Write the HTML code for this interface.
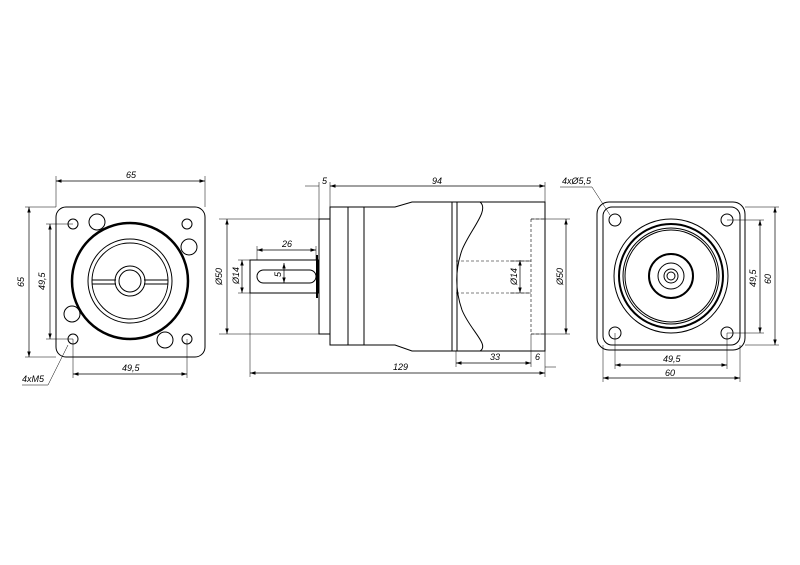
<!DOCTYPE html><html><head><style>body{margin:0;background:#fff}svg{display:block}text{font-family:"Liberation Sans",sans-serif;font-style:italic;font-size:9px;fill:#000;stroke:none}</style></head><body>
<svg width="800" height="565" viewBox="0 0 800 565" fill="none" stroke="#000" stroke-width="1">
<defs><marker id="a" markerWidth="8" markerHeight="6" refX="8" refY="3" orient="auto-start-reverse"><path d="M0,0.5L8,3L0,5.5z" fill="#000" stroke="none"/></marker></defs>
<g stroke-width="0.7" marker-start="url(#a)" marker-end="url(#a)">
<line x1="56" y1="181" x2="205" y2="181"/><line x1="29" y1="207" x2="29" y2="357"/><line x1="50" y1="224" x2="50" y2="339"/><line x1="73" y1="374" x2="187" y2="374"/>
<line x1="330" y1="186" x2="545" y2="186"/><line x1="250" y1="373" x2="545" y2="373"/><line x1="456" y1="363" x2="531" y2="363"/>
<line x1="227" y1="219" x2="227" y2="334"/><line x1="242" y1="260" x2="242" y2="293"/><line x1="257" y1="250" x2="316" y2="250"/><line x1="284" y1="263" x2="284" y2="283"/><line x1="520" y1="260" x2="520" y2="293"/><line x1="566" y1="219" x2="566" y2="334"/>
<line x1="775" y1="207" x2="775" y2="345"/><line x1="760" y1="220" x2="760" y2="333"/><line x1="615" y1="365" x2="727" y2="365"/><line x1="603" y1="378" x2="740" y2="378"/>
</g>
<g stroke-width="0.5">
<path d="M56,207V176M205,207V176M56,207H25M56,357H25M73,224H46M73,339H46M73,339V378M187,339V378"/>
<path d="M319,219V182M330,207V182M305,186H319M545,202V182M250,293V377M545,351V377M456,351V367M531,334V367M545,367H556M219,219H319M219,334H319M238,260H250M238,293H250M257,260V246M316,260V246M531,219H570M531,334H570M510,261H531M510,293H531"/>
<path d="M745,207H779M745,345H779M727,220H764M727,333H764M615,333V369M727,333V369M603,345V382M740,345V382"/>
<path d="M22,385H48L68,345M560,187H592L610,215"/>
</g>
<text x="126" y="178">65</text><text x="24" y="287" transform="rotate(-90 24 287)">65</text><text x="45" y="290" transform="rotate(-90 45 290)">49,5</text><text x="122" y="371">49,5</text><text x="22" y="382">4xM5</text>
<text x="322" y="184">5</text><text x="432" y="184">94</text><text x="393" y="370">129</text><text x="490" y="360">33</text><text x="535" y="360">6</text>
<text x="222" y="285" transform="rotate(-90 222 285)">Ø50</text><text x="239" y="284" transform="rotate(-90 239 284)">Ø14</text><text x="282" y="247">26</text><text x="281" y="277" transform="rotate(-90 281 277)">5</text><text x="517" y="285" transform="rotate(-90 517 285)">Ø14</text><text x="563" y="285" transform="rotate(-90 563 285)">Ø50</text>
<text x="562" y="184">4xØ5,5</text><text x="771" y="284" transform="rotate(-90 771 284)">60</text><text x="756" y="287" transform="rotate(-90 756 287)">49,5</text><text x="663" y="362">49,5</text><text x="665" y="376">60</text>
<rect x="56" y="207" width="149" height="150" rx="10"/>
<circle cx="130" cy="281" r="58" stroke-width="2.5"/><circle cx="130" cy="281" r="42"/><circle cx="130" cy="281" r="38"/>
<path d="M92,280H116M92,284H116M144,280H168M144,284H168"/>
<circle cx="130" cy="281" r="15"/><circle cx="130" cy="281" r="11"/>
<circle cx="73" cy="224" r="5"/><circle cx="187" cy="224" r="5"/><circle cx="73" cy="339" r="5"/><circle cx="187" cy="339" r="5"/>
<circle cx="97" cy="222" r="8"/><circle cx="189" cy="247" r="8"/><circle cx="72" cy="314" r="8"/><circle cx="165" cy="340" r="8"/>
<rect x="319" y="219" width="11" height="115"/>
<path d="M330,207H395L412,202H545V351H412L395,345H330Z"/><path d="M348,207V345M364,207V345M452,202V351M457,202V351"/>
<path d="M480,202C490,210 470,230 462,250C455,270 455,290 462,310C470,330 490,345 480,351"/>
<rect x="250" y="260" width="68" height="33"/><rect x="257" y="270" width="59" height="13" rx="6.5"/>
<line x1="317" y1="255" x2="317" y2="298" stroke-width="2"/>
<path d="M531,219V334M531,219H545M531,334H545M456,261H531M456,293H531" stroke-width="0.6" stroke-dasharray="3,2"/>
<rect x="597" y="202" width="148" height="148" rx="12"/><rect x="603" y="207" width="137" height="138" rx="9"/>
<circle cx="671" cy="276" r="57"/><circle cx="671" cy="276" r="52" stroke-width="2"/><circle cx="671" cy="276" r="48"/><circle cx="671" cy="276" r="46"/>
<circle cx="671" cy="276" r="22" stroke-width="2"/><circle cx="671" cy="276" r="13"/><circle cx="671" cy="276" r="7"/><circle cx="671" cy="276" r="4"/>
<circle cx="615" cy="220" r="6"/><circle cx="727" cy="220" r="6"/><circle cx="615" cy="333" r="6"/><circle cx="727" cy="333" r="6"/>
</svg></body></html>
